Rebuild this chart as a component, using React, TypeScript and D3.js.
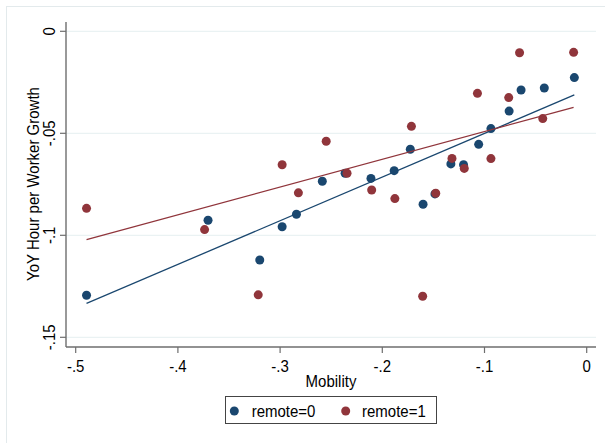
import React from "react";
import * as d3 from "d3";

// remote = 0 (navy)
const remote0X = [-0.4894, -0.3705, -0.3199, -0.2980, -0.2840, -0.2587, -0.2364, -0.2111, -0.1884, -0.1726, -0.1601, -0.1485, -0.1329, -0.1205, -0.1057, -0.0937, -0.0759, -0.0642, -0.0415, -0.0121];
const remote0Y = [-0.1294, -0.0926, -0.1121, -0.0958, -0.0897, -0.0735, -0.0696, -0.0721, -0.0683, -0.0578, -0.0848, -0.0797, -0.0650, -0.0654, -0.0554, -0.0477, -0.0391, -0.0288, -0.0278, -0.0227];

// remote = 1 (maroon)
const remote1X = [-0.4894, -0.3739, -0.3214, -0.2980, -0.2821, -0.2549, -0.2345, -0.2104, -0.1877, -0.1715, -0.1605, -0.1477, -0.1318, -0.1198, -0.1069, -0.0937, -0.0763, -0.0657, -0.0430, -0.0128];
const remote1Y = [-0.0868, -0.0972, -0.1292, -0.0654, -0.0792, -0.0539, -0.0696, -0.0778, -0.0820, -0.0466, -0.1299, -0.0794, -0.0623, -0.0672, -0.0304, -0.0624, -0.0325, -0.0105, -0.0428, -0.0103];

// linear fit lines (endpoints in data units)
const fit0X = [-0.4894, -0.0121];
const fit0Y = [-0.1334, -0.0312];
const fit1X = [-0.4894, -0.0128];
const fit1Y = [-0.1021, -0.0373];

const xTicks = [-0.5, -0.4, -0.3, -0.2, -0.1, 0];
const xTickLabels = ["-.5", "-.4", "-.3", "-.2", "-.1", "0"];
const yTicks = [0, -0.05, -0.1, -0.15];
const yTickLabels = ["0", "-.05", "-.1", "-.15"];

const seriesNames = ["remote=0", "remote=1"];
const NAVY = "#1a476f";
const MAROON = "#90353b";

export default function App() {
  const W = 605, H = 443;
  const x = d3.scaleLinear().domain([-0.5, 0]).range([75.7, 586.7]);
  const y = d3.scaleLinear().domain([-0.15, 0]).range([337.3, 31.3]);
  const axL = 66, axR = 596, axT = 22, axB = 347;
  const font = "Arial, 'Liberation Sans', sans-serif";
  const line = d3.line<[number, number]>().x(d => x(d[0])).y(d => y(d[1]));
  const pts0 = remote0X.map((v, i) => [v, remote0Y[i]] as [number, number]);
  const pts1 = remote1X.map((v, i) => [v, remote1Y[i]] as [number, number]);
  const f0 = fit0X.map((v, i) => [v, fit0Y[i]] as [number, number]);
  const f1 = fit1X.map((v, i) => [v, fit1Y[i]] as [number, number]);
  const r = 4.5;
  const S = 1.15; // glyph stretch perpendicular to reading direction
  const hText = (tx: number, ty: number) => `translate(${tx},${ty}) scale(1,${S})`;
  const vText = (tx: number, ty: number) => `translate(${tx},${ty}) rotate(-90) scale(1,${S})`;
  return (
    <svg width={W} height={H} style={{ position: "absolute", left: 0, top: 0, background: "#fff" }} fontFamily={font}>
      <rect x={0} y={0} width={W} height={H} fill="#fff" />
      <rect x={6.5} y={6.5} width={640} height={480} fill="none" stroke="#e3eaec" strokeWidth={1} />
      {/* gridlines */}
      {yTicks.map((t, i) => (
        <line key={"g" + i} x1={axL} x2={axR} y1={y(t)} y2={y(t)} stroke="#eaf2f3" strokeWidth={1.2} />
      ))}
      {/* axes */}
      <line x1={axL} x2={axL} y1={axT} y2={axB} stroke="#6e6e6e" strokeWidth={1.4} />
      <line x1={axL} x2={axR} y1={axB} y2={axB} stroke="#6e6e6e" strokeWidth={1.4} />
      {yTicks.map((t, i) => (
        <g key={"yt" + i}>
          <line x1={axL - 6} x2={axL} y1={y(t)} y2={y(t)} stroke="#6e6e6e" strokeWidth={1.2} />
          <text transform={vText(54.5, y(t))} textAnchor="middle" fontSize={15} fill="#000">
            {yTickLabels[i]}
          </text>
        </g>
      ))}
      {xTicks.map((t, i) => (
        <g key={"xt" + i}>
          <line x1={x(t)} x2={x(t)} y1={axB} y2={axB + 6} stroke="#6e6e6e" strokeWidth={1.2} />
          <text transform={hText(x(t), 372)} textAnchor="middle" fontSize={15} fill="#000">
            {xTickLabels[i]}
          </text>
        </g>
      ))}
      <text transform={hText(331, 386.5)} textAnchor="middle" fontSize={15} fill="#000">Mobility</text>
      <text transform={vText(38.5, 184)} textAnchor="middle" fontSize={15} fill="#000">
        YoY Hour per Worker Growth
      </text>
      {/* points */}
      {pts0.map((p, i) => (
        <circle key={"a" + i} cx={x(p[0])} cy={y(p[1])} r={r} fill={NAVY} />
      ))}
      {pts1.map((p, i) => (
        <circle key={"b" + i} cx={x(p[0])} cy={y(p[1])} r={r} fill={MAROON} />
      ))}
      {/* fit lines */}
      <path d={line(f0) || ""} fill="none" stroke={NAVY} strokeWidth={1.3} />
      <path d={line(f1) || ""} fill="none" stroke={MAROON} strokeWidth={1.3} />
      {/* legend */}
      <rect x={225.5} y={396.5} width={211} height={27} fill="#fff" stroke="#444" strokeWidth={1} />
      <circle cx={234.3} cy={411} r={r} fill={NAVY} />
      <text transform={hText(251.7, 416.5)} fontSize={15} fill="#000">{seriesNames[0]}</text>
      <circle cx={345.7} cy={411} r={r} fill={MAROON} />
      <text transform={hText(362, 416.5)} fontSize={15} fill="#000">{seriesNames[1]}</text>
    </svg>
  );
}
